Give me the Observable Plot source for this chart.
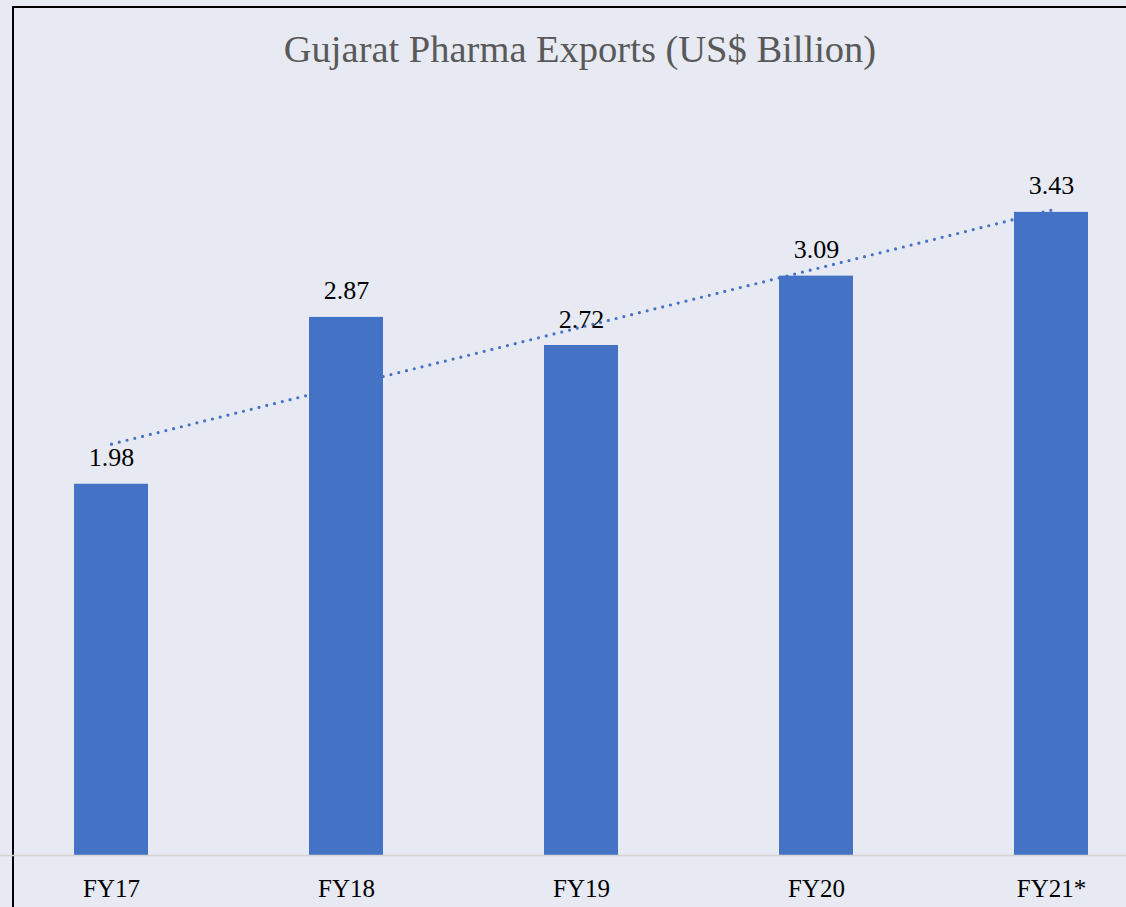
<!DOCTYPE html>
<html>
<head>
<meta charset="utf-8">
<script src="https://cdn.jsdelivr.net/npm/d3@7"></script>
<script src="https://cdn.jsdelivr.net/npm/@observablehq/plot@0.6"></script>
<style>
  html, body { margin: 0; padding: 0; background: #e7eaf2; }
  #wrap { position: relative; width: 1126px; height: 907px; overflow: hidden; background: #e7eaf2; }
  #frame { position: absolute; left: 12px; top: 6px; width: 1200px; height: 1000px; border-left: 2px solid #000; border-top: 2px solid #000; box-sizing: border-box; }
  #title { position: absolute; left: 0; width: 1160px; top: 27px; text-align: center; font-family: "Liberation Serif", serif; font-size: 38.5px; color: #595959; }
  #chart { position: absolute; left: 0; top: 0; }
</style>
</head>
<body>
<div id="wrap">
  <div id="frame"></div>
  <div id="chart"></div>
  <div id="title">Gujarat Pharma Exports (US$ Billion)</div>
</div>
<script>
const categories = ["FY17", "FY18", "FY19", "FY20", "FY21*"];
const values = [1.98, 2.87, 2.72, 3.09, 3.43];

const data = categories.map((c, i) => ({cat: c, value: values[i], idx: i}));

// linear trendline (least squares over category index)
const mx = d3.mean(data, d => d.idx), my = d3.mean(values);
const slope = d3.sum(data, d => (d.idx - mx) * (d.value - my)) / d3.sum(data, d => (d.idx - mx) ** 2);
const trend = data.map(d => ({cat: d.cat, value: my + slope * (d.idx - mx)}));

const chart = Plot.plot({
  width: 1126,
  height: 907,
  marginTop: 105,
  marginBottom: 52,
  marginLeft: 0,
  marginRight: 0,
  style: {background: "transparent", fontFamily: "Liberation Serif, serif", overflow: "hidden"},
  x: {type: "band", domain: categories, range: [-6.5, 1168.5], paddingInner: 0.685, paddingOuter: 0.3425, align: 0.5, label: null},
  y: {domain: [0, 4], axis: null},
  marks: [
    Plot.barY(data, {x: "cat", y: "value", fill: "#4472c4"}),
    Plot.ruleY([0], {stroke: "#d4d4d4", strokeWidth: 1.5}),
    Plot.line(trend, {x: "cat", y: "value", stroke: "#4472c4", strokeWidth: 3.2, strokeDasharray: "0,8", strokeLinecap: "round"}),
    Plot.text(data, {x: "cat", y: "value", text: d => d.value.toFixed(2), dy: -18, lineAnchor: "bottom", fontSize: 26, fill: "#000"}),
    Plot.axisX({tickSize: 0, tickPadding: 24, fontSize: 25, color: "#000"})
  ]
});
document.getElementById("chart").appendChild(chart);
</script>
</body>
</html>
